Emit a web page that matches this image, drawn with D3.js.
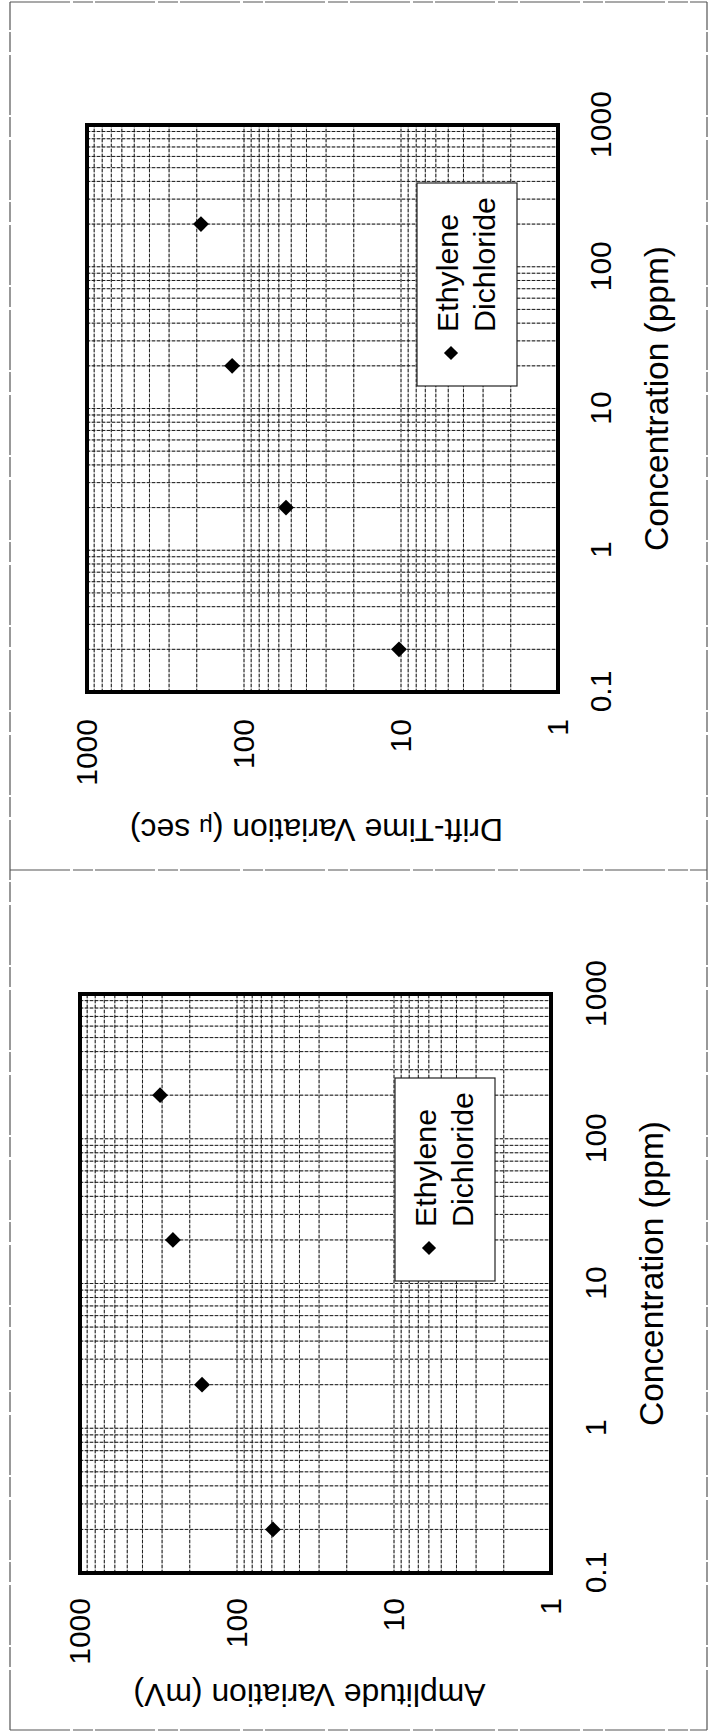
<!DOCTYPE html>
<html>
<head>
<meta charset="utf-8">
<script src="https://cdn.jsdelivr.net/npm/d3@7"></script>
<style>
  html, body { margin: 0; padding: 0; background: #fff; }
  svg { display: block; }
  text { font-family: "Liberation Sans", Arial, Helvetica, sans-serif; fill: #000; }
</style>
</head>
<body>
<svg id="fig" width="711" height="1732"></svg>
<script>
// data
const concentration = [0.2, 2, 20, 200];      // ppm
const amplitude = [59, 167, 256, 309];        // mV
const driftTime = [10.3, 54, 119, 188];       // micro-seconds
const xTickValues = [0.1, 1, 10, 100, 1000];
const xTickLabels = ['0.1', '1', '10', '100', '1000'];
const yTickValues = [1, 10, 100, 1000];
const yTickLabels = ['1', '10', '100', '1000'];
const legendLines = ['Ethylene', 'Dichloride'];

// the page is a landscape figure turned a quarter turn, so draw it flat and rotate
const W = 1732, H = 711;
const svg = d3.select('#fig');
const page = svg.append('g').attr('transform', `translate(0,${W}) rotate(-90)`);

/* ---------------------------
   page frame + divider
   --------------------------- */
const border = [
  [2, 10, 1730, 10], [2, 707, 1730, 707],
  [2, 10, 2, 707], [1730, 10, 1730, 707],
  [862, 10, 862, 707]
];
page.selectAll('line.border')
  .data(border)
  .join('line')
    .attr('class', 'border')
    .attr('x1', d => d[0]).attr('y1', d => d[1])
    .attr('x2', d => d[2]).attr('y2', d => d[3])
    .attr('stroke', '#555')
    .attr('stroke-width', 1.2)
    .attr('stroke-dasharray', '60,3,20,2');

/* ---------------------------
   one log-log panel
   --------------------------- */
function drawChart(cfg) {
  const w = cfg.width, h = cfg.height;
  const g = page.append('g').attr('transform', `translate(${cfg.left},${cfg.top})`);

  const x = d3.scaleLog().domain([0.1, 1000]).range([0, w]);
  const y = d3.scaleLog().domain([1, 1000]).range([h, 0]);

  // grid: every 1..9 multiple in each decade
  const grid = g.append('g');
  const xg = x.ticks().filter(v => v > 0.1 && v < 1000);
  const yg = y.ticks().filter(v => v > 1 && v < 1000);
  [['#a8a8a8', null, 1], ['#111', '3,2', 0.9]].forEach(([col, dash, w0]) => {
    grid.append('g').selectAll('line')
      .data(xg)
      .join('line')
        .attr('x1', d => x(d)).attr('x2', d => x(d))
        .attr('y1', 0).attr('y2', h)
        .attr('stroke', col)
        .attr('stroke-width', w0)
        .attr('stroke-dasharray', dash);
    grid.append('g').selectAll('line')
      .data(yg)
      .join('line')
        .attr('x1', 0).attr('x2', w)
        .attr('y1', d => y(d)).attr('y2', d => y(d))
        .attr('stroke', col)
        .attr('stroke-width', w0)
        .attr('stroke-dasharray', dash);
  });

  // frame
  g.append('rect')
    .attr('width', w).attr('height', h)
    .attr('fill', 'none')
    .attr('stroke', '#000')
    .attr('stroke-width', 4);

  // axes
  const xAxis = g.append('g')
    .attr('transform', `translate(0,${h})`)
    .call(d3.axisBottom(x).tickValues(xTickValues)
      .tickFormat((d, i) => xTickLabels[i]).tickSize(0).tickPadding(cfg.xPad));
  const yAxis = g.append('g')
    .call(d3.axisLeft(y).tickValues(yTickValues)
      .tickFormat((d, i) => yTickLabels[i]).tickSize(0).tickPadding(cfg.yPad));
  [xAxis, yAxis].forEach(a => {
    a.select('.domain').remove();
    a.selectAll('text')
      .style('font-size', '30px')
      .style('font-family', '"Liberation Sans", Arial, sans-serif')
      .attr('fill', '#000');
  });

  // axis titles
  g.append('text')
    .attr('x', w / 2 + 10)
    .attr('y', h + cfg.xTitleGap)
    .attr('text-anchor', 'middle')
    .attr('textLength', 305)
    .attr('lengthAdjust', 'spacingAndGlyphs')
    .style('font-size', '33px')
    .text('Concentration (ppm)');

  const yt = g.append('text')
    .attr('transform', `translate(${-cfg.yTitleGap},${h / 2 - 6}) rotate(-90)`)
    .attr('text-anchor', 'middle')
    .attr('textLength', cfg.yTitleLen)
    .attr('lengthAdjust', 'spacingAndGlyphs')
    .style('font-size', '32px');
  cfg.yTitle.forEach(part => {
    yt.append('tspan').style('font-size', part.size || null).text(part.t);
  });

  // points
  g.selectAll('path.pt')
    .data(cfg.values)
    .join('path')
      .attr('class', 'pt')
      .attr('d', d3.symbol(d3.symbolSquare, 125))
      .attr('transform', (d, i) => `translate(${x(concentration[i])},${y(d)}) rotate(45)`)
      .attr('fill', '#000');

  // legend
  const lg = g.append('g').attr('transform', `translate(${cfg.legend[0]},${cfg.legend[1]})`);
  lg.append('rect')
    .attr('width', 203).attr('height', 100)
    .attr('fill', '#fff')
    .attr('stroke', '#222')
    .attr('stroke-width', 1.2);
  lg.append('path')
    .attr('d', d3.symbol(d3.symbolSquare, 100))
    .attr('transform', 'translate(33,34) rotate(45)')
    .attr('fill', '#000');
  lg.selectAll('text')
    .data(legendLines)
    .join('text')
      .attr('x', 54)
      .attr('y', (d, i) => 41 + i * 37)
      .attr('textLength', (d, i) => [118, 135][i])
      .attr('lengthAdjust', 'spacingAndGlyphs')
      .style('font-size', '30px')
      .text(d => d);
}

// right half of the flat page: drift time
drawChart({
  left: 1040, top: 87, width: 567, height: 471,
  values: driftTime,
  xPad: 32, yPad: 27, xTitleGap: 110, yTitleGap: 127, yTitleLen: 373,
  legend: [306, 330],
  yTitle: [{ t: 'Drift-Time Variation (' }, { t: 'μ', size: '24px' }, { t: ' sec)' }]
});

// left half: amplitude
drawChart({
  left: 159, top: 80, width: 579, height: 471,
  values: amplitude,
  xPad: 34, yPad: 25, xTitleGap: 112, yTitleGap: 111, yTitleLen: 352,
  legend: [292, 315],
  yTitle: [{ t: 'Amplitude Variation (mV)' }]
});
</script>
</body>
</html>
